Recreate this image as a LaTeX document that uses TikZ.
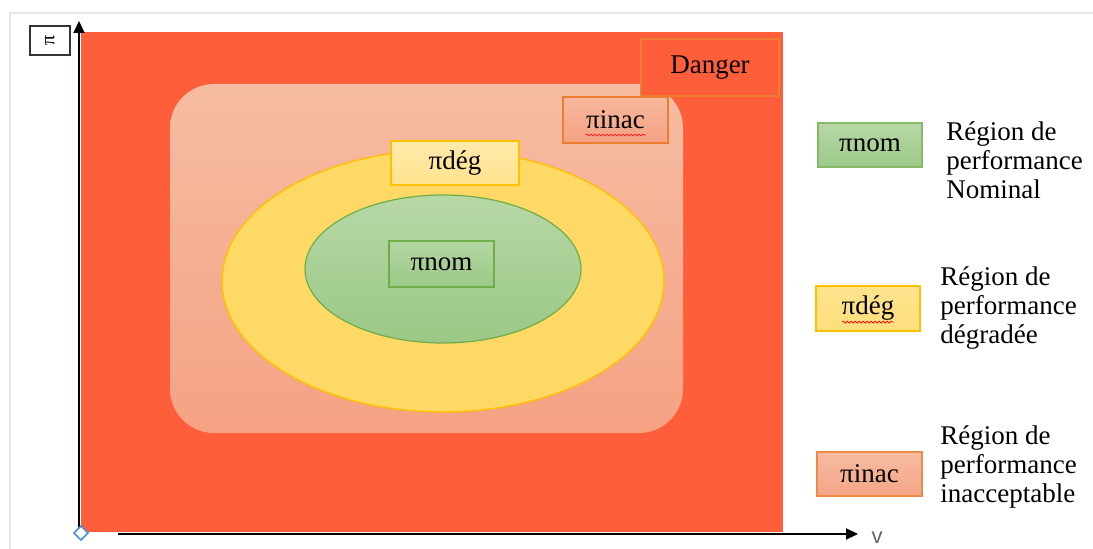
\documentclass[tikz,border=0pt]{standalone}
\usepackage{fontspec}
\setmainfont{Liberation Serif}
\newfontfamily\axisfont{Liberation Sans}
\usetikzlibrary{arrows.meta,decorations.pathmorphing}
\definecolor{dangerred}{HTML}{FF5E3A}
\definecolor{inactop}{HTML}{F6BCA2}
\definecolor{inacbot}{HTML}{F5A283}
\definecolor{degfill}{HTML}{FFD966}
\definecolor{degline}{HTML}{FFC000}
\definecolor{nomtop}{HTML}{B6D8A6}
\definecolor{nombot}{HTML}{9BC886}
\definecolor{nomline}{HTML}{70AD47}
\definecolor{inacline}{HTML}{ED7D31}
\definecolor{framegray}{HTML}{E6E6E6}
\definecolor{handleblue}{HTML}{4A90D9}
\tikzset{
  labelbox/.style = {draw, line width = 0.6pt, inner sep = 0pt, font = \fontsize{13.5}{14.5}\selectfont, text = black},
  legendtext/.style = {anchor = west, inner sep = 0pt, align = left, font = \fontsize{13.5}{14.5}\selectfont, text = black},
  squiggle/.style = {red, line width = 0.3pt, decorate, decoration = {snake, amplitude = 0.5pt, segment length = 2pt}}
}
\begin{document}
\begin{tikzpicture}[x = 0.5pt, y = -0.5pt]
\useasboundingbox (0,0) rectangle (1093,549);
\fill[white] (0,0) rectangle (1093,549);
\draw[framegray, line width = 1pt] (10,549) -- (10,13) -- (1093,13);
% regions
\fill[dangerred] (81,32) rectangle (783,532);
\draw[draw = none, top color = inactop, bottom color = inacbot, rounded corners = 22pt] (170,84) rectangle (683,433);
\draw[fill = degfill, draw = degline, line width = 0.7pt] (443,281) ellipse (221 and 131);
\draw[top color = nomtop, bottom color = nombot, draw = nomline, line width = 0.6pt] (443,269) ellipse (138 and 74);
% labels in the plane
\node[labelbox, fill = dangerred, draw = inacline, minimum width = 69pt, minimum height = 28.5pt] (danger) at (710,67.5) {Danger};
\node[labelbox, top color = inactop!80!inacbot, bottom color = inacbot, draw = inacline, minimum width = 52.5pt, minimum height = 23pt] (pinac) at (615.5,120) {πinac};
\node[labelbox, top color = degfill!55!white, bottom color = degfill!75!white, draw = degline, minimum width = 64pt, minimum height = 22pt] (pdeg) at (455,163) {πdég};
\node[labelbox, top color = nomtop!90!nombot, bottom color = nombot, draw = nomline, minimum width = 52.5pt, minimum height = 23pt] (pnom) at (441.5,264) {πnom};
\draw[squiggle] ([xshift = -15pt, yshift = -7.5pt]pinac.center) -- ([xshift = 15pt, yshift = -7.5pt]pinac.center);
% axes
\coordinate (origin) at (79,533);
\coordinate (ytip) at (79,21);
\coordinate (xstart) at (118,534);
\coordinate (xtip) at (858,534);
\draw[line width = 1pt, -{Triangle[length = 6pt, width = 5.5pt]}] (origin) -- (ytip);
\draw[line width = 1pt, -{Triangle[length = 6pt, width = 5.5pt]}] (xstart) -- (xtip);
\node[draw = black!80, line width = 0.8pt, minimum width = 20pt, minimum height = 14.5pt, inner sep = 0pt] (pibox) at (50,40.5) {\rotatebox{90}{\fontsize{10}{11}\selectfont π}};
\node[inner sep = 0pt, text = black!60, font = \axisfont\fontsize{11}{12}\selectfont] (vlabel) at (877,538) {v};
\node[draw = handleblue, line width = 0.8pt, fill = white, minimum size = 5pt, inner sep = 0pt, rotate = 45] (handle) at (81,533) {};
% legend
\node[labelbox, top color = nomtop, bottom color = nombot!90!nomtop, draw = nomline!85!white, minimum width = 52pt, minimum height = 22pt] (legnom) at (870,145) {πnom};
\node[labelbox, top color = degfill!75!white, bottom color = degfill!85!white, draw = degline, minimum width = 52pt, minimum height = 22.5pt] (legdeg) at (868,308.5) {πdég};
\node[labelbox, top color = inactop, bottom color = inacbot!90!inactop, draw = inacline!90!white, minimum width = 52.5pt, minimum height = 22pt] (leginac) at (869.5,474) {πinac};
\draw[squiggle] ([xshift = -13pt, yshift = -6.8pt]legdeg.center) -- ([xshift = 13pt, yshift = -6.8pt]legdeg.center);
\node[legendtext] (txtnom) at (946,160) {Région de\\performance\\Nominal};
\node[legendtext] (txtdeg) at (940,308) {Région de\\performance\\dégradée};
\node[legendtext] (txtinac) at (940,467) {Région de\\performance\\inacceptable};
\end{tikzpicture}
\end{document}
